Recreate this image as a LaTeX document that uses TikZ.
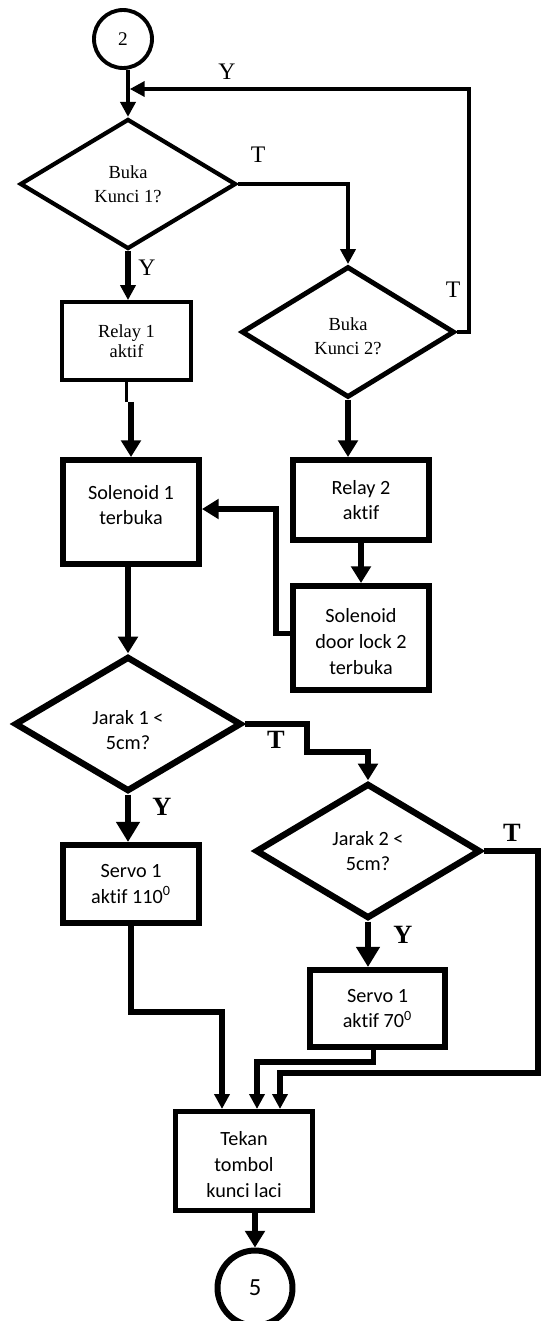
\documentclass[tikz,border=0pt]{standalone}
\usepackage{fontspec}
\setmainfont{Liberation Serif}
\newfontfamily\calibri[Ligatures=NoCommon]{Carlito}
\usetikzlibrary{shapes.geometric,arrows.meta}

\begin{document}
\begin{tikzpicture}[x=.02cm, y=-.02cm,
    thinln/.style={line width=2.2pt},
    midln/.style={line width=2.9pt},
    thickln/.style={line width=3.6pt},
    arrs/.style={-{Triangle[width=8.5pt,length=8.5pt]}},
    arrm/.style={-{Triangle[width=11pt,length=9.5pt]}},
    arrl/.style={-{Triangle[width=13pt,length=11.5pt]}},
    serbox/.style={draw, rectangle, align=center, inner sep=0pt, line width=2.2pt,
        font=\fontsize{10.5}{11.5}\selectfont},
    calbox/.style={draw, rectangle, align=center, inner sep=0pt, line width=3.4pt,
        font=\calibri\fontsize{11.5}{14.7}\selectfont},
    serdec/.style={draw, diamond, aspect=1.6, align=center, inner sep=1pt,
        font=\fontsize{10.5}{13.5}\selectfont},
    caldec/.style={draw, diamond, aspect=1.6, align=center, inner sep=1pt, line width=3.6pt,
        font=\calibri\fontsize{11.5}{14.7}\selectfont},
    caltxt/.style={inner sep=0pt, align=center, font=\calibri\fontsize{11.5}{14.7}\selectfont},
    sertxt/.style={inner sep=0pt, align=center, font=\fontsize{10.5}{13.5}\selectfont},
    lbl/.style={inner sep=0pt, font=\fontsize{13.5}{14}\selectfont},
    lblb/.style={inner sep=0pt, font=\bfseries\fontsize{15}{16}\selectfont},
]
\useasboundingbox (0,0) rectangle (541,1321);

% simbol dan proses
\node[draw, circle, line width=2.2pt, minimum size=1.16cm, inner sep=0pt,
    font=\fontsize{11}{12}\selectfont] (c2) at (123,39) {2};
\node[serdec, line width=2.4pt, minimum width=4.32cm, minimum height=2.6cm] (d1) at (128,184) {Buka\\Kunci 1?};
\node[serbox, minimum width=2.58cm, minimum height=1.56cm] (r1) at (126.5,341) {Relay 1\\aktif};
\node[serdec, line width=2.8pt, minimum width=4.26cm, minimum height=2.62cm,
    label={[sertxt, yshift=-2.5pt]center:Buka\\Kunci 2?}] (d2) at (348,332) {};
\node[calbox, minimum width=2.72cm, minimum height=2.08cm,
    label={[caltxt, yshift=4pt]center:Solenoid 1\\terbuka}] (s1) at (131,512) {};
\node[calbox, minimum width=2.72cm, minimum height=1.6cm] (rl2) at (361,500) {Relay 2\\aktif};
\node[calbox, minimum width=2.72cm, minimum height=2.08cm,
    label={[caltxt, yshift=-2pt]center:Solenoid\\door lock 2\\terbuka}] (s2) at (361,638) {};
\node[caldec, minimum width=4.54cm, minimum height=2.7cm,
    label={[caltxt, yshift=-3.4pt]center:Jarak 1 <\\5cm?}] (d3) at (128,724) {};
\node[caldec, minimum width=4.5cm, minimum height=2.7cm] (d4) at (368,851) {Jarak 2 <\\5cm?};
\node[calbox, minimum width=2.72cm, minimum height=1.56cm] (sv1) at (131,884) {Servo 1\\aktif 110\textsuperscript{0}};
\node[calbox, minimum width=2.7cm, minimum height=1.54cm] (sv2) at (377.5,1008.5) {Servo 1\\aktif 70\textsuperscript{0}};
\node[calbox, line width=2.9pt, minimum width=2.74cm, minimum height=1.98cm,
    label={[caltxt, yshift=-2.2pt]center:Tekan\\tombol\\kunci laci}] (tk) at (244,1161) {};
\node[draw, circle, line width=3.4pt, minimum size=1.5cm, inner sep=0pt,
    font=\calibri\fontsize{14}{15}\selectfont] (c5) at (255,1288) {5};

% alur atas
\draw[thinln, arrs] (d1.north |- c2.south) -- (d1.north);
\coordinate (fb) at (469,89);
\draw[thinln, arrs, shorten >=1pt] (d2.east) -| (fb) -- (d1.north |- fb);
\draw[thinln, arrs] (d1.east) -| (d2.north);
\draw[midln, arrs] (d1.south) -- (d1.south |- r1.north);
\draw[thinln] (r1.south) -- ++(0,20) coordinate (jog);
\draw[thickln, arrm] (s1.north |- jog) -- (s1.north);
\draw[thickln, arrm] (d2.south) -- (d2.south |- rl2.north);
\draw[thickln, arrm] (rl2.south) -- (s2.north);
\coordinate (jn) at (276,509);
\draw[midln, arrm] ([yshift=2.8pt]s2.west) -| (jn) -- (s1.east |- jn);

% alur bawah
\draw[midln, arrm] (d3.north |- s1.south) -- (d3.north);
\coordinate (st1) at (307,752);
\draw[midln, arrm] (d3.east) -| (st1) -| (d4.north);
\draw[thickln, arrl] (d3.south) -- (d3.south |- sv1.north);
\draw[thickln, arrl] (d4.south) -- (d4.south |- sv2.north);
\coordinate (rt) at (538,1073);
\coordinate (in3) at (280,1073);
\draw[midln, arrs] (d4.east) -| (rt) -- (in3) -- (in3 |- tk.north);
\coordinate (in1) at (222,1012);
\draw[midln, arrs] (sv1.south) |- (in1) -- (in1 |- tk.north);
\coordinate (in2) at (257,1062);
\draw[midln, arrs] ([xshift=-2.5pt]sv2.south) |- (in2) -- (in2 |- tk.north);
\draw[thickln, arrm] (c5.north |- tk.south) -- (c5.north);

% label
\node[lbl] (ly1) at (227,72) {Y};
\node[lbl] (lt1) at (258,155) {T};
\node[lbl] (ly2) at (147,268) {Y};
\node[lbl] (lt2) at (453,290) {T};
\node[lblb] (lt3) at (276,740) {T};
\node[lblb] (ly3) at (162,807) {Y};
\node[lblb] (lt4) at (512,833) {T};
\node[lblb] (ly4) at (403,935) {Y};
\end{tikzpicture}
\end{document}
